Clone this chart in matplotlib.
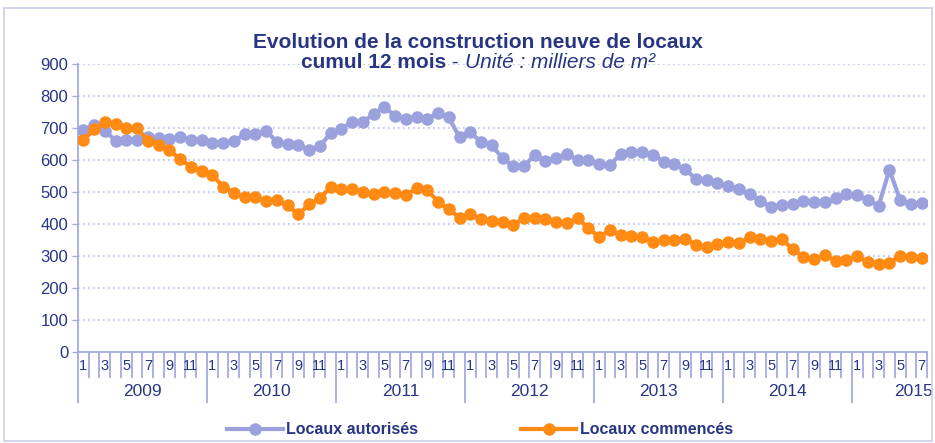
import numpy as np
import matplotlib.pyplot as plt
from matplotlib.transforms import blended_transform_factory
from matplotlib.patches import Rectangle

# ── Data (cumul 12 mois, milliers de m²), janvier 2009 -> juillet 2015 ─────────
years = ["2009", "2010", "2011", "2012", "2013", "2014", "2015"]
autorises = [
    694, 709, 692, 660, 662, 662, 673, 668, 665, 673, 662, 662,   # 2009
    652, 652, 660, 680, 680, 691, 657, 649, 647, 631, 644, 683,   # 2010
    697, 720, 718, 744, 765, 739, 728, 735, 727, 748, 733, 671,   # 2011
    686, 657, 647, 605, 581, 581, 616, 597, 607, 619, 600, 600,   # 2012
    587, 584, 619, 626, 624, 616, 595, 587, 572, 540, 537, 529,   # 2013
    520, 508, 494, 472, 454, 459, 461, 472, 470, 470, 480, 494,   # 2014
    491, 475, 457, 569, 475, 462, 467,                             # 2015
]
commences = [
    662, 696, 718, 711, 699, 701, 660, 647, 631, 603, 579, 567,   # 2009
    553, 517, 496, 483, 485, 472, 475, 459, 430, 461, 480, 515,   # 2010
    510, 510, 501, 494, 501, 498, 491, 511, 506, 470, 446, 420,   # 2011
    431, 416, 410, 407, 397, 418, 420, 416, 407, 402, 418, 386,   # 2012
    360, 381, 366, 364, 360, 343, 350, 350, 353, 334, 329, 336,   # 2013
    345, 340, 358, 353, 348, 352, 321, 298, 290, 303, 285, 287,   # 2014
    301, 280, 275, 277, 301, 298, 293,                             # 2015
]
n = len(autorises)
months = [(i % 12) + 1 for i in range(n)]

BLUE = "#9BA1DD"
ORANGE = "#FF8A14"
NAVY = "#283583"
AXIS = "#A4AAE0"

plt.rcParams["font.family"] = ["Liberation Sans", "DejaVu Sans"]

fig = plt.figure(figsize=(9.35, 4.43), dpi=100)
ax = fig.add_axes([78 / 935, 1 - 352 / 443, (927 - 78) / 935, 288 / 443])

fig.patches.append(Rectangle((4 / 935, 2 / 443), 928 / 935, 433 / 443,
                             transform=fig.transFigure, fill=False,
                             edgecolor="#C9CDEB", lw=1.2))

x = np.arange(n)
ax.plot(x, autorises, "-o", color=BLUE, lw=3, ms=8, label="Locaux autorisés",
        zorder=3)
ax.plot(x, commences, "-o", color=ORANGE, lw=3, ms=8, label="Locaux commencés",
        zorder=4)

ax.set_ylim(0, 900)
ax.set_xlim(-0.5, n - 0.5)
ax.set_yticks(range(0, 1000, 100))
ax.tick_params(axis="y", colors=AXIS, labelcolor=NAVY, labelsize=12,
               length=4, width=1, pad=3)
for g in range(100, 1000, 100):
    ax.axhline(g, color="#B8BDEA", lw=1.2, ls=(0, (1, 2)), zorder=1)

for s in ["top", "right"]:
    ax.spines[s].set_visible(False)
for s in ["left", "bottom"]:
    ax.spines[s].set_color(AXIS)
    ax.spines[s].set_linewidth(1.3)

# category ticks: months (short) and years (long)
bounds = np.arange(-0.5, n, 1.0)
year_bounds = bounds[::12]
ax.set_xticks(year_bounds)
ax.set_xticks([b for b in bounds if b not in year_bounds], minor=True)
ax.set_xticklabels([])
ax.tick_params(axis="x", which="major", length=37, width=1.3, colors=AXIS)
ax.tick_params(axis="x", which="minor", length=18.5, width=1.3, colors=AXIS)

trans = blended_transform_factory(ax.transData, ax.transAxes)
for i, m in enumerate(months):
    if m % 2 == 1:
        ax.text(i, -14 / 288, str(m), transform=trans, ha="center", va="center",
                fontsize=10.5, color=NAVY)
for k, yr in enumerate(years):
    start = 12 * k - 0.5
    end = min(start + 12, n - 0.5)
    xc = (start + end) / 2 if end - start == 12 else n - 1.8
    ax.text(xc, -40 / 288, yr, transform=trans, ha="center", va="center",
            fontsize=12.5, color=NAVY)

# titre
fig.text(478 / 935, 1 - 43 / 443, "Evolution de la construction neuve de locaux",
         ha="center", va="center", fontsize=15, fontweight="bold", color=NAVY)
parts = [("cumul 12 mois", "bold", "normal"), (" - ", "normal", "normal"),
         ("Unité : milliers de m²", "normal", "italic")]
fig.canvas.draw()
r = fig.canvas.get_renderer()
texts = []
for s, w, st in parts:
    t = fig.text(0, 1 - 63 / 443, s, ha="left", va="center", fontsize=15,
                 fontweight=w, fontstyle=st, color=NAVY)
    texts.append(t)
widths = [t.get_window_extent(r).width for t in texts]
x0 = 478 - sum(widths) / 2
for t, w in zip(texts, widths):
    t.set_x(x0 / 935)
    x0 += w

leg = fig.legend(loc="center", bbox_to_anchor=(480 / 935, 1 - 430 / 443), ncol=2,
                 frameon=False, handlelength=3.5, columnspacing=6.4,
                 handletextpad=0.2, prop={"weight": "bold", "size": 11.5})
for t in leg.get_texts():
    t.set_color(NAVY)

fig.savefig("out.png", dpi=100)
